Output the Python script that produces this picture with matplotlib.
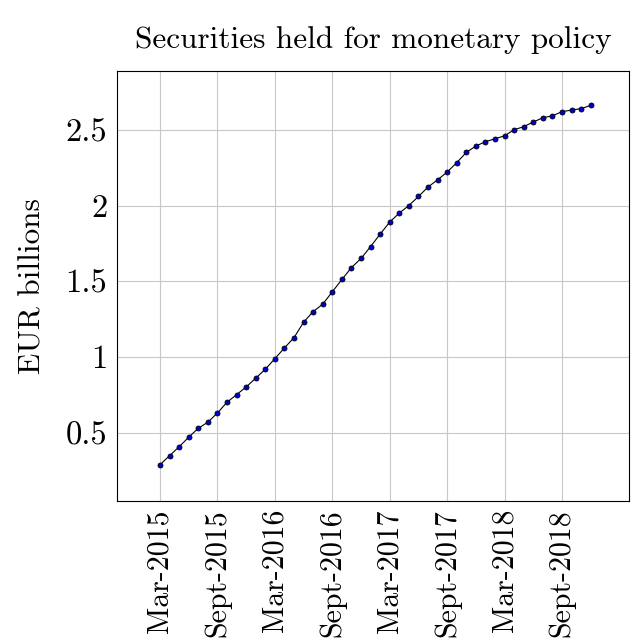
import matplotlib
matplotlib.use("Agg")
import matplotlib.pyplot as plt

# Eurosystem securities held for monetary policy purposes, monthly
months = ["Mar-2015", "Apr-2015", "May-2015", "Jun-2015", "Jul-2015", "Aug-2015",
          "Sept-2015", "Oct-2015", "Nov-2015", "Dec-2015", "Jan-2016", "Feb-2016",
          "Mar-2016", "Apr-2016", "May-2016", "Jun-2016", "Jul-2016", "Aug-2016",
          "Sept-2016", "Oct-2016", "Nov-2016", "Dec-2016", "Jan-2017", "Feb-2017",
          "Mar-2017", "Apr-2017", "May-2017", "Jun-2017", "Jul-2017", "Aug-2017",
          "Sept-2017", "Oct-2017", "Nov-2017", "Dec-2017", "Jan-2018", "Feb-2018",
          "Mar-2018", "Apr-2018", "May-2018", "Jun-2018", "Jul-2018", "Aug-2018",
          "Sept-2018", "Oct-2018", "Nov-2018", "Dec-2018"]
holdings = [0.288, 0.348, 0.407, 0.470, 0.529, 0.569, 0.630, 0.701, 0.751, 0.802,
            0.860, 0.919, 0.989, 1.060, 1.128, 1.230, 1.300, 1.349, 1.431, 1.512,
            1.591, 1.651, 1.730, 1.812, 1.892, 1.951, 2.001, 2.061, 2.123, 2.171,
            2.222, 2.284, 2.352, 2.394, 2.423, 2.442, 2.462, 2.502, 2.522, 2.553,
            2.581, 2.594, 2.621, 2.632, 2.641, 2.663]
tick_labels = ["Mar-2015", "Sept-2015", "Mar-2016", "Sept-2016",
               "Mar-2017", "Sept-2017", "Mar-2018", "Sept-2018"]
y_ticks = [0.5, 1, 1.5, 2, 2.5]

plt.rcParams["font.family"] = "serif"
plt.rcParams["font.serif"] = ["cmr10", "DejaVu Serif"]
plt.rcParams["mathtext.fontset"] = "cm"
plt.rcParams["axes.formatter.use_mathtext"] = True

W, H = 632, 643
fig = plt.figure(figsize=(W / 100, H / 100), dpi=100)
left, right, top, bottom = 117, 629, 70.7, 500.7
ax = fig.add_axes([left / W, 1 - bottom / H, (right - left) / W, (bottom - top) / H])

x = list(range(len(months)))
ax.plot(x, holdings, color="black", lw=0.8, marker="o", markersize=3.6,
        markerfacecolor="#0000cc", markeredgecolor="black", markeredgewidth=0.6,
        zorder=3)

tick_pos = [months.index(t) for t in tick_labels]
ax.set_xticks(tick_pos)
ax.set_xticklabels(tick_labels, rotation=90, fontsize=21.5)
ax.set_yticks(y_ticks)
ax.set_yticklabels(["0.5", "1", "1.5", "2", "2.5"], fontsize=23.5)
ax.set_xlim(-4.5, 49.0)
ax.set_ylim(0.05, 2.892)

ax.grid(True, color="#c8c8c8", lw=0.8)
ax.set_axisbelow(True)
ax.tick_params(axis="y", length=0, pad=7)
ax.tick_params(axis="x", length=0, pad=6)
for s in ax.spines.values():
    s.set_linewidth(0.8)
    s.set_color("black")

ax.set_ylabel("EUR billions", fontsize=22.5, labelpad=14)
ax.set_title("Securities held for monetary policy", fontsize=22.5, pad=16)

fig.savefig("out.png", dpi=100)
